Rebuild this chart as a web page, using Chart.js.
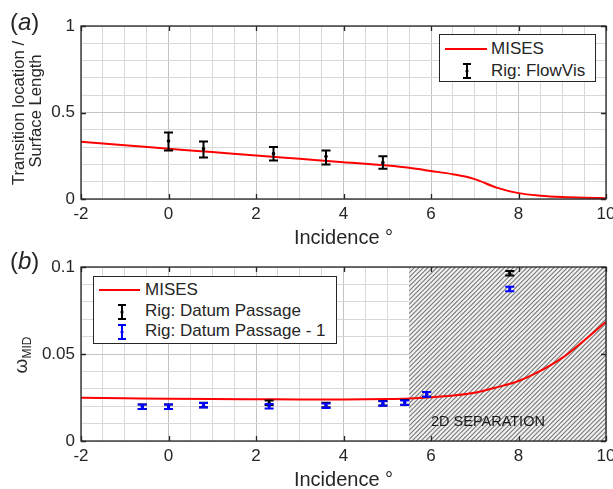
<!DOCTYPE html>
<html>
<head>
<meta charset="utf-8">
<script src="https://cdn.jsdelivr.net/npm/chart.js@4.4.1/dist/chart.umd.min.js"></script>
<style>
  body { margin: 0; background: #fff; overflow: hidden; font-family: 'Liberation Sans', Arial, sans-serif; color: #262626; }
  #wrap { position: relative; width: 613px; height: 489px; }
  canvas { position: absolute; left: 0; }
  .abs { position: absolute; white-space: nowrap; }
  .legend { position: absolute; border: 1px solid #262626; background: #fff; box-sizing: border-box; }
  .row { position: absolute; font-size: 17px; line-height: 20px; }
  .lline { position: absolute; height: 2px; background: #ff0000; }
  .ytitle { position: absolute; transform: translate(-50%, -50%) rotate(-90deg); text-align: center; white-space: nowrap; }
</style>
</head>
<body>
<div id="wrap">
  <canvas id="chartA" width="613" height="250" style="top:0"></canvas>
  <canvas id="chartB" width="613" height="239" style="top:250px"></canvas>

  <div class="abs" style="left:10px;top:8px;font-size:24px;line-height:28px">(<i>a</i>)</div>
  <div class="abs" style="left:10px;top:247px;font-size:24px;line-height:28px">(<i>b</i>)</div>

  <div class="ytitle" style="left:19px;top:113px;font-size:16.7px;line-height:18px">Transition location /</div>
  <div class="ytitle" style="left:36px;top:111px;font-size:16.7px;line-height:18px">Surface Length</div>
  <div class="ytitle" style="left:24px;top:355px;font-size:19px;line-height:20px">&omega;<sub style="font-size:12px;vertical-align:-4px">MID</sub></div>

  <div class="legend" style="left:439px;top:34px;width:157px;height:48px">
    <div class="lline" style="left:5px;top:13px;width:42px"></div>
    <div class="row" style="left:51px;top:4px">MISES</div>
    <svg class="abs" style="left:21px;top:27px" width="12" height="18"><path d="M6 2V16M2 2H10M2 16H10" stroke="#000" stroke-width="2" fill="none"/><circle cx="6" cy="9" r="1.6" fill="#000"/></svg>
    <div class="row" style="left:51px;top:26px">Rig: FlowVis</div>
  </div>

  <div class="legend" style="left:93px;top:276px;width:244px;height:68px">
    <div class="lline" style="left:5px;top:12px;width:41px"></div>
    <div class="row" style="left:51px;top:3px">MISES</div>
    <svg class="abs" style="left:22px;top:26px" width="12" height="18"><path d="M6 2V16M2 2H10M2 16H10" stroke="#000" stroke-width="2" fill="none"/><circle cx="6" cy="9" r="1.6" fill="#000"/></svg>
    <div class="row" style="left:51px;top:24px">Rig: Datum Passage</div>
    <svg class="abs" style="left:22px;top:46px" width="12" height="18"><path d="M6 2V16M2 2H10M2 16H10" stroke="#0000ff" stroke-width="2" fill="none"/><circle cx="6" cy="9" r="1.6" fill="#0000ff"/></svg>
    <div class="row" style="left:51px;top:44px">Rig: Datum Passage - 1</div>
  </div>

  <div class="abs" style="left:431px;top:412px;font-size:14.5px;line-height:18px;color:#1a1a1a">2D SEPARATION</div>
</div>

<script>
// (a) transition location
const misesAX = [-2, -1, 0, 1, 2, 3, 4, 5, 5.5, 6, 6.5, 7, 7.5, 8, 8.5, 9, 9.5, 10];
const misesAY = [0.331, 0.311, 0.291, 0.271, 0.251, 0.232, 0.213, 0.193, 0.180, 0.162, 0.143, 0.115, 0.066, 0.034, 0.019, 0.011, 0.007, 0.005];
const flowX = [0, 0.8, 2.4, 3.6, 4.9];
const flowY = [0.335, 0.290, 0.262, 0.245, 0.210];
const flowLo = [0.280, 0.240, 0.223, 0.200, 0.175];
const flowHi = [0.385, 0.333, 0.300, 0.280, 0.247];

// (b) loss coefficient
const misesBX = [-2, -1, 0, 1, 2, 3, 4, 5, 5.5, 6, 6.5, 7, 7.5, 8, 8.4, 9, 9.5, 10];
const misesBY = [0.0249, 0.0246, 0.0243, 0.0241, 0.0240, 0.0239, 0.0239, 0.0241, 0.0244, 0.0251, 0.0261, 0.0277, 0.0308, 0.0345, 0.0390, 0.0478, 0.0578, 0.0686];
const rigX = [-0.6, 0, 0.8, 2.3, 3.6, 4.9, 5.4, 5.9, 7.8];
const datumY = [0.0197, 0.0197, 0.0207, 0.0220, 0.0207, 0.0217, 0.0222, 0.0268, 0.0964];
const datum1Y = [0.0197, 0.0197, 0.0205, 0.0200, 0.0203, 0.0215, 0.0220, 0.0268, 0.0874];
const rigErr = 0.0013;
const sepStart = 5.5;

Chart.defaults.font.family = "'Liberation Sans', Arial, sans-serif";
Chart.defaults.color = '#262626';
Chart.defaults.animation = false;

const pts = (xs, ys) => xs.map((x, i) => ({ x, y: ys[i] }));
const near = (v, step) => Math.abs(v / step - Math.round(v / step)) < 1e-6;

// draws vertical error bars with caps under each point
const errorBars = {
  id: 'errorBars',
  beforeDatasetDraw(chart, args) {
    const ds = chart.data.datasets[args.index];
    if (!ds.errLo) return;
    const { x, y } = chart.scales;
    const ctx = chart.ctx;
    ctx.save();
    ctx.strokeStyle = ds.borderColor;
    ctx.lineWidth = 2;
    ds.data.forEach((p, i) => {
      const px = x.getPixelForValue(p.x);
      const y1 = y.getPixelForValue(ds.errLo[i]);
      const y2 = y.getPixelForValue(ds.errHi[i]);
      const w = ds.capWidth / 2;
      ctx.beginPath();
      ctx.moveTo(px, y1); ctx.lineTo(px, y2);
      ctx.moveTo(px - w, y1); ctx.lineTo(px + w, y1);
      ctx.moveTo(px - w, y2); ctx.lineTo(px + w, y2);
      ctx.stroke();
    });
    ctx.restore();
  }
};

// matlab style box with inward major ticks
const frame = {
  id: 'frame',
  afterDraw(chart, args, opts) {
    const { ctx, chartArea: a } = chart;
    const { x, y } = chart.scales;
    ctx.save();
    ctx.strokeStyle = '#262626';
    ctx.lineWidth = 1.3;
    ctx.beginPath();
    for (let v = x.min; v <= x.max + 1e-9; v += opts.xMajor) {
      const px = Math.round(x.getPixelForValue(v)) + 0.5;
      ctx.moveTo(px, a.bottom); ctx.lineTo(px, a.bottom - 5);
      ctx.moveTo(px, a.top); ctx.lineTo(px, a.top + 5);
    }
    for (let v = y.min; v <= y.max + 1e-9; v += opts.yMajor) {
      const py = Math.round(y.getPixelForValue(v)) + 0.5;
      ctx.moveTo(a.left, py); ctx.lineTo(a.left + 5, py);
      ctx.moveTo(a.right, py); ctx.lineTo(a.right - 5, py);
    }
    ctx.stroke();
    ctx.strokeRect(a.left, a.top, a.right - a.left, a.bottom - a.top);
    ctx.restore();
  }
};

function gridOpts(step) {
  return {
    color: c => near(c.tick.value, step) ? '#c4c4c4' : '#d8d8d8',
    borderDash: [1, 2],
    lineWidth: 1,
    drawTicks: false
  };
}

function axes(yMin, yMax, yStep, yMajor, yLabel, xHeight, xPadBottom) {
  return {
    x: {
      type: 'linear', min: -2, max: 10,
      grid: gridOpts(2),
      border: { display: false },
      ticks: {
        stepSize: 0.5, autoSkip: false, maxRotation: 0, padding: 5,
        font: { size: 17 },
        callback: v => near(v, 2) ? String(v) : ''
      },
      title: { display: true, text: 'Incidence °', font: { size: 20 }, padding: { top: 0, bottom: xPadBottom } },
      afterFit(s) { s.height = xHeight; s.paddingLeft = 0; s.paddingRight = 0; }
    },
    y: {
      type: 'linear', min: yMin, max: yMax,
      grid: gridOpts(yMajor),
      border: { display: false },
      ticks: {
        stepSize: yStep, autoSkip: false, padding: 6,
        font: { size: 17 },
        callback: v => near(v, yMajor) ? yLabel(v) : ''
      },
      afterFit(s) { s.width = 81; s.paddingTop = 0; s.paddingBottom = 0; }
    }
  };
}

new Chart(document.getElementById('chartA'), {
  type: 'scatter',
  data: {
    datasets: [
      {
        label: 'MISES', data: pts(misesAX, misesAY), showLine: true,
        borderColor: '#ff0000', borderWidth: 2, pointRadius: 0,
        cubicInterpolationMode: 'monotone', order: 1
      },
      {
        label: 'Rig: FlowVis', data: pts(flowX, flowY),
        errLo: flowLo, errHi: flowHi, capWidth: 9,
        borderColor: '#000', backgroundColor: '#000', pointRadius: 1.8, pointBorderWidth: 0, order: 0
      }
    ]
  },
  options: {
    responsive: false,
    layout: { padding: { top: 26, right: 7, left: 0, bottom: 0 } },
    plugins: { legend: { display: false }, tooltip: { enabled: false }, frame: { xMajor: 2, yMajor: 0.5 } },
    scales: axes(0, 1, 0.1, 0.5, v => String(v), 51, 0)
  },
  plugins: [errorBars, frame]
});

// diagonal hatch for separated region (two lines per 9px tile)
const tile = document.createElement('canvas');
tile.width = 9; tile.height = 9;
const tctx = tile.getContext('2d');
tctx.fillStyle = '#f2f2f2';
tctx.fillRect(0, 0, 9, 9);
tctx.strokeStyle = '#7c7c7c';
tctx.lineWidth = 1.2;
tctx.beginPath();
[-9, -4.5, 0, 4.5, 9].forEach(o => { tctx.moveTo(o - 1, 10); tctx.lineTo(o + 10, -1); });
tctx.stroke();
const hatch = tctx.createPattern(tile, 'repeat');

new Chart(document.getElementById('chartB'), {
  type: 'scatter',
  data: {
    datasets: [
      {
        label: 'MISES', data: pts(misesBX, misesBY), showLine: true,
        borderColor: '#ff0000', borderWidth: 2, pointRadius: 0,
        cubicInterpolationMode: 'monotone', order: 2
      },
      {
        label: 'Rig: Datum Passage', data: pts(rigX, datumY),
        errLo: datumY.map(v => v - rigErr), errHi: datumY.map(v => v + rigErr), capWidth: 9,
        borderColor: '#000', backgroundColor: '#000', pointRadius: 1.6, pointBorderWidth: 0, order: 1
      },
      {
        label: 'Rig: Datum Passage - 1', data: pts(rigX, datum1Y),
        errLo: datum1Y.map(v => v - rigErr), errHi: datum1Y.map(v => v + rigErr), capWidth: 9,
        borderColor: '#0000ff', backgroundColor: '#0000ff', pointRadius: 1.6, pointBorderWidth: 0, order: 0
      },
      {
        label: '2D separation', data: pts([sepStart, 10], [0.1, 0.1]), showLine: true,
        borderWidth: 0, pointRadius: 0, fill: 'origin', backgroundColor: hatch, order: 3
      }
    ]
  },
  options: {
    responsive: false,
    layout: { padding: { top: 17, right: 7, left: 0, bottom: 0 } },
    plugins: { legend: { display: false }, tooltip: { enabled: false }, frame: { xMajor: 2, yMajor: 0.05 } },
    scales: axes(0, 0.1, 0.01, 0.05, v => String(Math.round(v * 100) / 100), 48, -3)
  },
  plugins: [errorBars, frame]
});
</script>
</body>
</html>
